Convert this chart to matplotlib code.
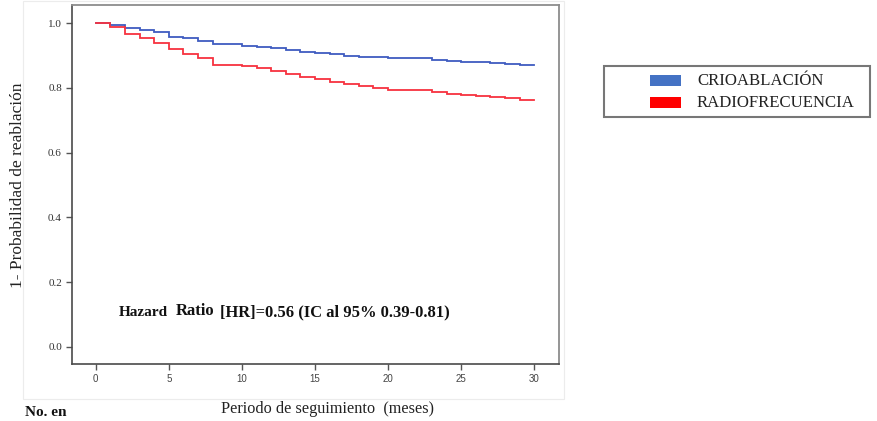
import matplotlib
matplotlib.use("Agg")
import matplotlib.pyplot as plt
from matplotlib.patches import Rectangle

# ---- data ----
times = [0, 1, 2, 3, 4, 5, 6, 7, 8, 10, 11, 12, 13, 14, 15, 16, 17, 18, 19, 20,
         23, 24, 25, 26, 27, 28, 29, 30]
crio = [1.000, 0.995, 0.985, 0.979, 0.972, 0.959, 0.954, 0.946, 0.935, 0.931,
        0.928, 0.923, 0.917, 0.912, 0.909, 0.904, 0.900, 0.897, 0.897, 0.892,
        0.887, 0.884, 0.881, 0.879, 0.877, 0.875, 0.871, 0.871]
radio = [1.000, 0.988, 0.967, 0.954, 0.940, 0.920, 0.905, 0.892, 0.871, 0.867,
         0.861, 0.853, 0.843, 0.835, 0.827, 0.818, 0.812, 0.806, 0.799, 0.795,
         0.788, 0.782, 0.777, 0.774, 0.771, 0.768, 0.763, 0.763]
series_names = ["CRIOABLACIÓN", "RADIOFRECUENCIA"]
line_colors = ["#3f5cc0", "#f7323f"]
legend_colors = ["#4472C4", "#FF0000"]
xticks = [0, 5, 10, 15, 20, 25, 30]
yticks = [0.0, 0.2, 0.4, 0.6, 0.8, 1.0]

W, H = 878, 421
fig = plt.figure(figsize=(W / 100, H / 100), dpi=100)
fig.patch.set_facecolor("white")

serif = ["Liberation Serif", "DejaVu Serif"]
sans = ["Liberation Sans", "DejaVu Sans"]

def fx(px):
    return px / W

def fy(py):
    return 1 - py / H

# faint outer chart-area frame
fig.patches.append(Rectangle((fx(23), fy(399)), fx(564) - fx(23), fy(1) - fy(399),
                             transform=fig.transFigure, fill=False,
                             edgecolor="#ececec", linewidth=0.8, zorder=0))

ax = fig.add_axes([fx(71.7), fy(364.3), fx(559.3) - fx(71.7), fy(4.5) - fy(364.3)])
for vals, col in zip([crio, radio], line_colors):
    ax.plot(times, vals, drawstyle="steps-post", color=col, linewidth=1.3,
            solid_joinstyle="miter")

ax.set_xlim(-1.64, 31.71)
ax.set_ylim(-0.0544, 1.058)
ax.set_xticks(xticks)
ax.set_yticks(yticks)
ax.set_xticklabels([str(t) for t in xticks], fontfamily=sans, fontsize=7, color="#444444")
ax.set_yticklabels([f"{t:.1f}" for t in yticks], fontfamily=serif, fontsize=8, color="#333333")
ax.tick_params(axis="both", direction="out", length=4, width=1.0, color="#555555", pad=3)

for s in ["left", "bottom"]:
    ax.spines[s].set_color("#4a4a4a")
    ax.spines[s].set_linewidth(1.2)
for s in ["top", "right"]:
    ax.spines[s].set_color("#8c8c8c")
    ax.spines[s].set_linewidth(1.3)

# axis labels
fig.text(fx(18.5), fy(185), "1- Probabilidad de reablación", rotation=90,
         ha="center", va="center", fontfamily=serif, fontsize=12.5, color="#222222")
fig.text(fx(328), fy(409), "Periodo de seguimiento  (meses)", ha="center", va="center",
         fontfamily=serif, fontsize=11.7, color="#222222")
fig.text(fx(25), fy(413), "No. en", ha="left", va="center", fontfamily=serif,
         fontsize=11, fontweight="bold", color="#111111")

# hazard ratio annotation
fig.text(fx(119), fy(312), "Hazard", ha="left", va="center", fontfamily=serif,
         fontsize=11, fontweight="bold", color="#111111")
fig.text(fx(176), fy(311), "Ratio", ha="left", va="center", fontfamily=serif,
         fontsize=12, fontweight="bold", color="#111111")
fig.text(fx(220), fy(312), "[HR]=0.56 (IC al 95% 0.39-0.81)", ha="left", va="center",
         fontfamily=serif, fontsize=11.9, fontweight="bold", color="#111111")

# legend box
fig.patches.append(Rectangle((fx(604), fy(116.7)), fx(870) - fx(604), fy(65.7) - fy(116.7),
                             transform=fig.transFigure, fill=False,
                             edgecolor="#777777", linewidth=1.5, zorder=2))
for i, (name, col) in enumerate(zip(series_names, legend_colors)):
    top = 75 + i * 22.3
    fig.patches.append(Rectangle((fx(650), fy(top + 10.7)), fx(681) - fx(650), fy(top) - fy(top + 10.7),
                                 transform=fig.transFigure, facecolor=col,
                                 edgecolor="none", zorder=3))
    fig.text(fx(697), fy(top + 6), name, ha="left", va="center", fontfamily=serif,
             fontsize=12.1, color="#222222")

fig.savefig("out.png", dpi=100)
